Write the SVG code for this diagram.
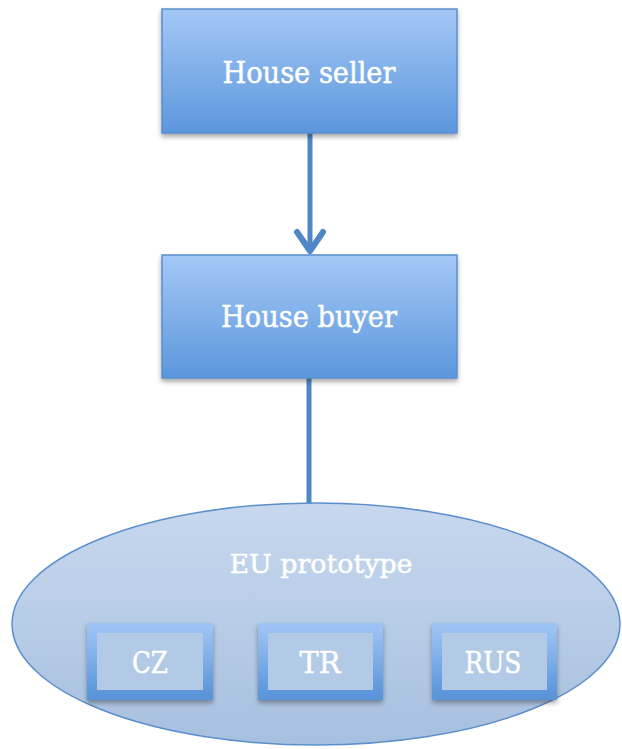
<svg xmlns="http://www.w3.org/2000/svg" width="622" height="749" viewBox="0 0 622 749">
<defs>
<linearGradient id="boxg" x1="0" y1="0" x2="0" y2="1">
<stop offset="0" stop-color="#a4c8f6"/>
<stop offset="1" stop-color="#5c97dc"/>
</linearGradient>
<linearGradient id="ellg" x1="0" y1="0" x2="0" y2="1">
<stop offset="0" stop-color="#c7d8ee"/>
<stop offset="1" stop-color="#a7c0df"/>
</linearGradient>
<linearGradient id="frameg" x1="0" y1="0" x2="0" y2="1">
<stop offset="0" stop-color="#9dc3f4"/>
<stop offset="1" stop-color="#5a95da"/>
</linearGradient>
<filter id="sh" x="-10%" y="-10%" width="120%" height="130%">
<feDropShadow dx="0" dy="3" stdDeviation="2.5" flood-color="#000" flood-opacity="0.35"/>
</filter>
</defs>
<style>
.box{fill:url(#boxg);stroke:#5a8fd0;stroke-width:1.5;filter:url(#sh)}
.lbl{font-family:"DejaVu Serif","Liberation Serif",serif;fill:#ffffff;stroke:#ffffff;stroke-width:0.5;text-anchor:middle}
.conn{stroke:#4f86c6;stroke-width:5;fill:none}
.frame{fill:#b3cae6;stroke:url(#frameg);stroke-width:10;filter:url(#sh)}
</style>
<g id="connectors">
<line class="conn" x1="310" y1="133" x2="310" y2="252"/>
<path d="M297,232 L310,251 L323,232" fill="none" stroke="#4f86c6" stroke-width="6" stroke-linecap="round" stroke-linejoin="round"/>
<line class="conn" x1="309" y1="378" x2="309" y2="504"/>
</g>
<g id="house-seller">
<rect class="box" x="162" y="9" width="295" height="124"/>
<text class="lbl" x="309" y="83" font-size="30" textLength="173" lengthAdjust="spacingAndGlyphs">House seller</text>
</g>
<g id="house-buyer">
<rect class="box" x="162" y="255" width="295" height="123"/>
<text class="lbl" x="309" y="327" font-size="30" textLength="176" lengthAdjust="spacingAndGlyphs">House buyer</text>
</g>
<g id="eu-prototype">
<ellipse cx="316" cy="624" rx="304" ry="121" fill="url(#ellg)" stroke="#5b8fcc" stroke-width="1.5"/>
<text class="lbl" x="321" y="573" font-size="26" textLength="183" lengthAdjust="spacingAndGlyphs">EU prototype</text>
</g>
<g id="cz">
<rect class="frame" x="92" y="628" width="116" height="67"/>
<text class="lbl" x="150" y="673" font-size="29" textLength="36" lengthAdjust="spacingAndGlyphs">CZ</text>
</g>
<g id="tr">
<rect class="frame" x="263" y="628" width="115" height="67"/>
<text class="lbl" x="320" y="673" font-size="29" textLength="41" lengthAdjust="spacingAndGlyphs">TR</text>
</g>
<g id="rus">
<rect class="frame" x="437" y="628" width="115" height="67"/>
<text class="lbl" x="493" y="673" font-size="29" textLength="57" lengthAdjust="spacingAndGlyphs">RUS</text>
</g>
</svg>
